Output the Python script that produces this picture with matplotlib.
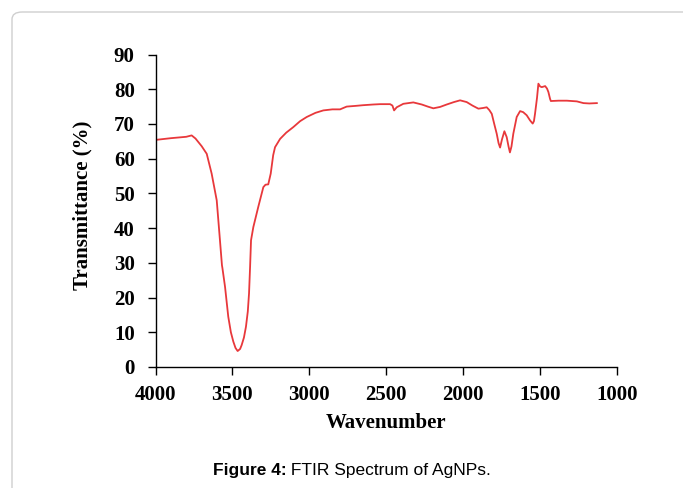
import numpy as np
import matplotlib
matplotlib.use("Agg")
import matplotlib.pyplot as plt
from matplotlib.patches import FancyBboxPatch

# FTIR spectrum
wavenumber = [4000, 3900, 3800, 3765, 3740, 3700, 3667, 3635, 3602, 3581, 3568, 3565,
              3548, 3527, 3510, 3494, 3480, 3466, 3450, 3440, 3425, 3412, 3400, 3392,
              3385, 3379, 3364, 3332, 3299, 3285, 3267, 3251, 3235, 3223, 3190, 3150,
              3104, 3060, 3017, 2960, 2909, 2850, 2800, 2779, 2757, 2700, 2650, 2584,
              2540, 2475, 2460, 2449, 2432, 2389, 2324, 2269, 2230, 2194, 2150, 2107,
              2060, 2020, 1977, 1940, 1901, 1870, 1847, 1830, 1814, 1798, 1782, 1770,
              1760, 1748, 1732, 1717, 1705, 1696, 1686, 1674, 1652, 1630, 1610, 1587,
              1565, 1548, 1540, 1533, 1520, 1511, 1500, 1489, 1467, 1455, 1446, 1435,
              1430, 1380, 1326, 1261, 1218, 1180, 1131]
transmittance = [65.4, 65.9, 66.3, 66.7, 65.8, 63.6, 61.4, 55.7, 48.0, 36.5, 29.3, 28.5,
                 23.1, 14.5, 10.0, 7.3, 5.5, 4.6, 5.2, 6.3, 8.5, 11.6, 16.0, 21.2,
                 29.0, 36.5, 40.3, 46.1, 51.8, 52.5, 52.6, 55.7, 61.0, 63.3, 65.7, 67.5,
                 69.1, 70.8, 72.0, 73.2, 73.9, 74.2, 74.2, 74.6, 75.0, 75.2, 75.4, 75.6,
                 75.7, 75.7, 75.3, 73.9, 74.8, 75.8, 76.2, 75.6, 75.0, 74.5, 74.9, 75.6,
                 76.3, 76.8, 76.3, 75.3, 74.4, 74.6, 74.8, 74.0, 72.9, 70.0, 67.2, 64.5,
                 63.2, 65.5, 67.9, 66.2, 63.5, 61.8, 63.5, 67.2, 72.0, 73.7, 73.4, 72.5,
                 71.0, 70.1, 70.8, 72.9, 77.5, 81.6, 80.8, 80.6, 80.9, 80.2, 79.2, 77.2,
                 76.6, 76.7, 76.7, 76.5, 76.0, 75.9, 76.0]

x_ticks = [4000, 3500, 3000, 2500, 2000, 1500, 1000]
y_ticks = [0, 10, 20, 30, 40, 50, 60, 70, 80, 90]

serif = "Liberation Serif"
sans = "Liberation Sans"

fig = plt.figure(figsize=(6.83, 4.88), dpi=100)

# rounded light grey frame round the figure (runs off right and bottom edge)
frame = FancyBboxPatch((12 / 683, -0.2), 1.2, 1.2 - 12 / 488,
                       boxstyle="round,pad=0,rounding_size=0.015",
                       transform=fig.transFigure, facecolor="none",
                       edgecolor="#cfcfcf", linewidth=1.0, zorder=-5)
fig.patches.append(frame)

ax = fig.add_axes([155.5 / 683, 1 - 367 / 488, (617 - 155.5) / 683, (367 - 54.5) / 488])
ax.set_facecolor("none")
ax.plot(wavenumber, transmittance, color="#e8383b", linewidth=1.3)

ax.set_xlim(4000, 1000)
ax.set_ylim(0, 90)
ax.set_xticks(x_ticks)
ax.set_yticks(y_ticks)
ax.spines["top"].set_visible(False)
ax.spines["right"].set_visible(False)
for s in ["left", "bottom"]:
    ax.spines[s].set_linewidth(1.0)
ax.tick_params(direction="out", length=6, width=1.0)
ax.tick_params(axis="y", pad=9)
ax.tick_params(axis="x", pad=7)
for lbl in ax.get_xticklabels() + ax.get_yticklabels():
    lbl.set_fontfamily(serif)
    lbl.set_fontweight("bold")
    lbl.set_fontsize(15)

ax.set_xlabel("Wavenumber", fontfamily=serif, fontweight="bold", fontsize=15, labelpad=6)
ax.set_ylabel("Transmittance (%)", fontfamily=serif, fontweight="bold", fontsize=15)
ax.yaxis.set_label_coords(-0.1376, 0.518)

# caption: bold part + normal part, centred together
fig.canvas.draw()
r = fig.canvas.get_renderer()
t1 = fig.text(0, 0, "Figure 4:", fontfamily=sans, fontweight="bold", fontsize=12.5)
t2 = fig.text(0, 0, " FTIR Spectrum of AgNPs.", fontfamily=sans, fontsize=12.5)
w1 = t1.get_window_extent(r).width
w2 = t2.get_window_extent(r).width
x0 = 352 - (w1 + w2) / 2
yc = 488 - 470
t1.set_position((x0 / 683, yc / 488))
t1.set_va("center")
t2.set_position(((x0 + w1) / 683, yc / 488))
t2.set_va("center")

fig.savefig("out.png", dpi=100)
